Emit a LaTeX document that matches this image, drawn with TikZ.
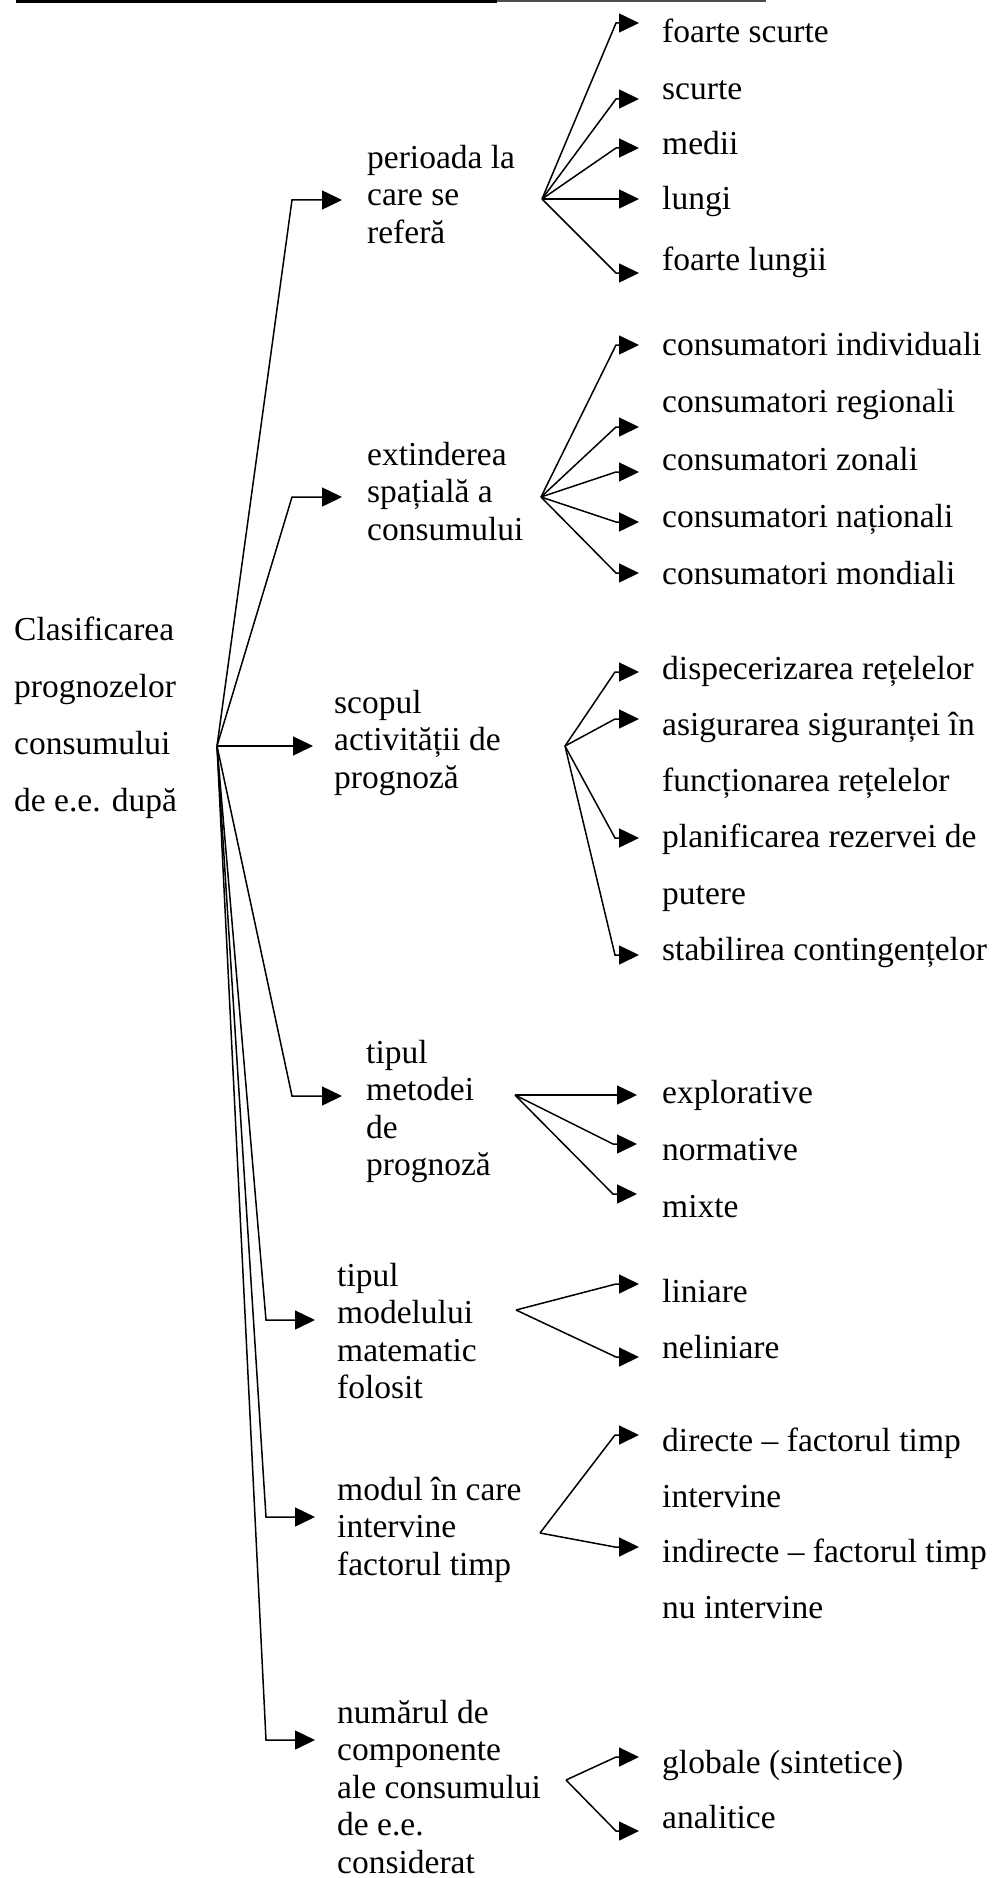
\documentclass[tikz,border=0pt]{standalone}
\usepackage{fontspec}
\setmainfont{Liberation Serif}
\usetikzlibrary{arrows.meta}
\begin{document}
\begin{tikzpicture}[x=1pt, y=-1pt,
  every node/.style={inner sep=0pt, anchor=north west, align=left},
  % a leading \strut fixes the first baseline 0.7\baselineskip below the top
  rootnode/.style={font=\fontsize{33.5}{57}\selectfont, yshift=39.9pt},
  catnode/.style={font=\fontsize{33.5}{37.5}\selectfont, yshift=26.25pt},
  itemnode/.style={font=\fontsize{33.5}{56.2}\selectfont, yshift=39.34pt},
  conn/.style={line width=1.5pt, line join=miter,
    -{Triangle[length=20pt,width=19pt]}, shorten >=#1},
  conn/.default=23pt
]
\useasboundingbox (0,0) rectangle (991,1878);
\fill[white] (0,0) rectangle (991,1878);

% rule at the head of the page
\draw[line width=2.6pt] (16,1.3) -- (497,1.3);
\draw[line width=2pt, black!70] (497,1) -- (766,1);

% root
\node[rootnode] (root) at (14,640) {\strut Clasificarea\\prognozelor\\consumului\\de e.e. după};
\coordinate (rf) at (217,746);

% criteria
\node[catnode] (per)  at (367,168)  {\strut perioada la\\care se\\referă};
\node[catnode] (ext)  at (367,465)  {\strut extinderea\\spațială a\\consumului};
\node[catnode] (scop) at (334,713)  {\strut scopul\\activității de\\prognoză};
\node[catnode] (met)  at (366,1063) {\strut tipul\\metodei\\de\\prognoză};
\node[catnode] (mdl)  at (337,1286) {\strut tipul\\modelului\\matematic\\folosit};
\node[catnode] (fac)  at (337,1500) {\strut modul în care\\intervine\\factorul timp};
\node[catnode] (num)  at (337,1723) {\strut numărul de\\componente\\ale consumului\\de e.e.\\considerat};

\draw[conn=25pt] (rf) -- (292,200)  -- (per.west |- 0,200);
\draw[conn=25pt] (rf) -- (292,497)  -- (ext.west |- 0,497);
\draw[conn=21pt] (rf) -- (scop.west |- rf);
\draw[conn=24pt] (rf) -- (292,1096) -- (met.west |- 0,1096);
\draw[conn=22pt] (rf) -- (266,1320) -- (mdl.west |- 0,1320);
\draw[conn=22pt] (rf) -- (266,1517) -- (fac.west |- 0,1517);
\draw[conn=22pt] (rf) -- (266,1740) -- (num.west |- 0,1740);

% perioada
\coordinate (f1) at (542,199);
\node[itemnode] (fs) at (662,42)  {\strut foarte scurte};
\node[itemnode] (sc) at (662,99)  {\strut scurte};
\node[itemnode] (me) at (662,154) {\strut medii};
\node[itemnode] (lu) at (662,209) {\strut lungi};
\node[itemnode] (fl) at (662,270) {\strut foarte lungii};
\draw[conn] (f1) -- (616,23)  -- (fs.west |- 0,23);
\draw[conn] (f1) -- (616,99)  -- (sc.west |- 0,99);
\draw[conn] (f1) -- (616,148) -- (me.west |- 0,148);
\draw[conn] (f1) -- (lu.west |- f1);
\draw[conn] (f1) -- (616,273) -- (fl.west |- 0,273);

% extinderea spatiala
\coordinate (f2) at (541,497);
\node[itemnode] (ci) at (662,355) {\strut consumatori individuali};
\node[itemnode] (cr) at (662,412) {\strut consumatori regionali};
\node[itemnode] (cz) at (662,470) {\strut consumatori zonali};
\node[itemnode] (cn) at (662,527) {\strut consumatori naționali};
\node[itemnode] (cm) at (662,584) {\strut consumatori mondiali};
\draw[conn] (f2) -- (616,345) -- (ci.west |- 0,345);
\draw[conn] (f2) -- (616,427) -- (cr.west |- 0,427);
\draw[conn] (f2) -- (616,472) -- (cz.west |- 0,472);
\draw[conn] (f2) -- (616,522) -- (cn.west |- 0,522);
\draw[conn] (f2) -- (616,573) -- (cm.west |- 0,573);

% scopul
\coordinate (f3) at (565,746);
\node[itemnode] (dr) at (662,679)   {\strut dispecerizarea rețelelor};
\node[itemnode] (as) at (662,735.2) {\strut asigurarea siguranței în\\funcționarea rețelelor};
\node[itemnode] (pl) at (662,847.6) {\strut planificarea rezervei de\\putere};
\node[itemnode] (st) at (662,960)   {\strut stabilirea contingențelor};
\draw[conn] (f3) -- (615,672) -- (dr.west |- 0,672);
\draw[conn] (f3) -- (615,719) -- (as.west |- 0,719);
\draw[conn] (f3) -- (615,838) -- (pl.west |- 0,838);
\draw[conn] (f3) -- (615,955) -- (st.west |- 0,955);

% metoda
\coordinate (f4) at (515,1095);
\node[itemnode] (ex) at (662,1103) {\strut explorative};
\node[itemnode] (no) at (662,1160) {\strut normative};
\node[itemnode] (mi) at (662,1217) {\strut mixte};
\draw[conn=25pt] (f4) -- (ex.west |- f4);
\draw[conn=25pt] (f4) -- (613,1144) -- (no.west |- 0,1144);
\draw[conn=25pt] (f4) -- (613,1194) -- (mi.west |- 0,1194);

% modelul matematic
\coordinate (f5) at (516,1310);
\node[itemnode] (li) at (662,1302) {\strut liniare};
\node[itemnode] (ne) at (662,1358) {\strut neliniare};
\draw[conn] (f5) -- (616,1284) -- (li.west |- 0,1284);
\draw[conn] (f5) -- (616,1357) -- (ne.west |- 0,1357);

% factorul timp
\coordinate (f6) at (540,1533);
\node[itemnode] (di) at (662,1451) {\strut directe – factorul timp\\intervine};
\node[itemnode] (id) at (662,1562) {\strut indirecte – factorul timp\\nu intervine};
\draw[conn] (f6) -- (615,1435) -- (di.west |- 0,1435);
\draw[conn] (f6) -- (615,1547) -- (id.west |- 0,1547);

% componente
\coordinate (f7) at (566,1780);
\node[itemnode] (gl) at (662,1773) {\strut globale (sintetice)};
\node[itemnode] (an) at (662,1828) {\strut analitice};
\draw[conn] (f7) -- (616,1757) -- (gl.west |- 0,1757);
\draw[conn] (f7) -- (616,1831) -- (an.west |- 0,1831);
\end{tikzpicture}
\end{document}
